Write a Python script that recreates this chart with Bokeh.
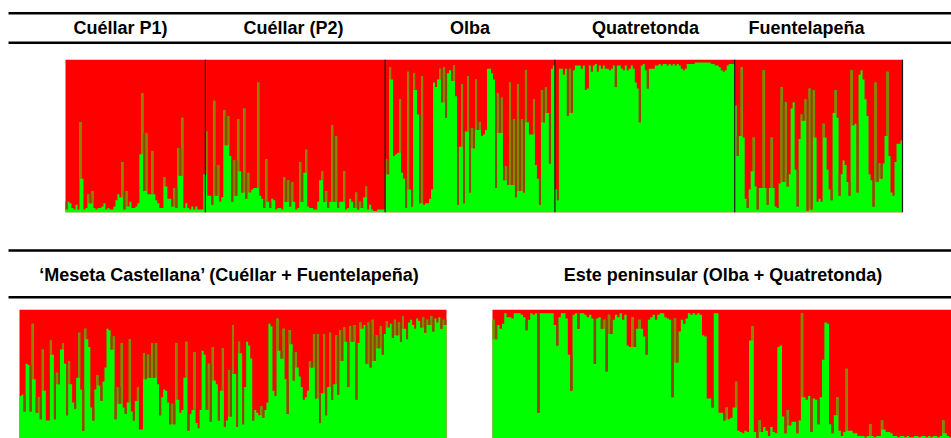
import numpy as np
from bokeh.plotting import figure
from bokeh.models import Range1d, Span
from bokeh.layouts import column, row
from bokeh.core.properties import value
from bokeh.embed import file_html
from bokeh.resources import INLINE

# ---------------- texts ----------------
top_titles = ["Cuéllar P1)", "Cuéllar (P2)", "Olba", "Quatretonda", "Fuentelapeña"]
bottom_titles = ["\u2018Meseta Castellana\u2019 (Cuéllar + Fuentelapeña)",
                 "Este peninsular (Olba + Quatretonda)"]

# ---------------- data: % membership in the green cluster, one value per individual ----------------
cuellar_p1 = [2, 7, 6, 3, 2, 5, 2, 59, 22, 2, 3, 12, 6, 14, 3, 2, 3, 3, 4, 6,
              2, 3, 2, 2, 4, 8, 12, 10, 33, 2, 14, 4, 7, 3, 3, 4, 6, 38, 78, 14,
              52, 12, 12, 40, 12, 8, 6, 3, 3, 23, 17, 9, 9, 4, 16, 3, 42, 24, 62, 3,
              6, 3, 2, 4, 2, 4, 2, 2, 2, 25]
cuellar_p2 = [53, 11, 11, 5, 73, 11, 31, 7, 10, 67, 44, 63, 37, 7, 34, 11, 61, 27, 13, 68,
              9, 26, 13, 15, 16, 16, 85, 11, 9, 3, 35, 7, 3, 9, 8, 2, 3, 3, 2, 23,
              7, 21, 4, 20, 7, 2, 3, 33, 7, 26, 41, 4, 3, 3, 2, 2, 7, 21, 27, 7,
              14, 3, 7, 57, 7, 50, 3, 7, 7, 27, 2, 3, 9, 7, 3, 13, 2, 7, 3, 10,
              17, 2, 5, 2, 1, 1, 2, 2, 2, 2]
olba = [35, 25, 95, 87, 37, 38, 39, 74, 26, 22, 3, 92, 15, 4, 91, 80, 64, 6, 89, 5,
        6, 6, 9, 15, 85, 82, 87, 94, 72, 95, 62, 91, 93, 86, 96, 76, 5, 43, 84, 6,
        53, 89, 13, 55, 42, 87, 54, 59, 50, 51, 54, 94, 94, 91, 87, 16, 78, 52, 75, 21,
        30, 18, 85, 18, 61, 10, 84, 14, 61, 13, 93, 59, 51, 51, 74, 31, 22, 5, 80, 59,
        82, 65, 32, 94, 96]
quatretonda = [15, 8, 94, 94, 90, 94, 63, 94, 65, 93, 96, 96, 96, 94, 96, 80, 81, 96, 92, 96,
               97, 92, 96, 94, 96, 94, 94, 93, 94, 96, 82, 96, 96, 94, 93, 96, 93, 94, 96, 94,
               85, 81, 59, 96, 97, 93, 81, 94, 94, 94, 96, 96, 97, 96, 97, 97, 96, 97, 96, 97,
               96, 97, 96, 94, 93, 94, 97, 97, 97, 97, 98, 98, 98, 98, 98, 98, 98, 98, 97, 97,
               96, 96, 95, 93, 92, 93, 96, 97, 97, 97]
fuentelapena = [70, 37, 50, 95, 49, 9, 3, 15, 27, 49, 17, 2, 16, 16, 93, 16, 5, 16, 49, 16,
                4, 3, 19, 82, 20, 72, 17, 25, 68, 72, 28, 4, 48, 64, 60, 74, 1, 81, 2, 80,
                49, 7, 9, 7, 58, 49, 28, 15, 8, 65, 80, 62, 11, 25, 34, 31, 20, 11, 93, 57,
                58, 13, 90, 93, 87, 74, 63, 25, 21, 4, 85, 20, 32, 22, 32, 50, 92, 37, 13, 11,
                33, 45, 45, 47]

meseta = [33, 34, 21, 58, 57, 21, 89, 46, 20, 32, 15, 69, 37, 14, 14, 76, 65, 15, 51, 42,
          69, 74, 58, 18, 60, 42, 28, 23, 47, 82, 38, 6, 85, 77, 71, 24, 14, 38, 49, 41,
          29, 44, 55, 85, 84, 69, 79, 15, 40, 27, 74, 24, 19, 28, 77, 21, 14, 29, 40, 7,
          7, 66, 46, 65, 47, 74, 47, 74, 42, 18, 32, 38, 37, 28, 11, 27, 11,
          74, 30, 20, 22, 47, 75, 6, 19, 22, 67, 12, 8, 22, 68, 65, 22, 58, 13, 71, 45,
          42, 14, 37, 70, 9, 14, 53, 17,
          88, 50, 9, 75, 66, 11, 40, 75, 72, 62, 14, 22, 20, 18, 25, 16, 22, 28, 89, 87,
          37, 33, 93, 68, 62, 85, 46, 19, 84, 73, 45, 67, 55,
          48, 40, 30, 32, 37, 60, 55, 81, 31, 81, 12, 35, 81, 18, 40, 82, 30, 42, 80, 34,
          84, 60, 86, 75, 40, 87, 75, 88, 30, 74, 90, 85, 88,
          58, 90, 55, 92, 60, 80, 70, 87, 65, 81, 91, 86, 89, 78, 92, 80, 90, 75, 95, 85,
          77, 90, 92, 88, 85, 93, 91, 86, 94, 82, 92, 88, 95, 83, 93, 90, 94, 85, 92, 88]
este = [92, 77, 88, 85, 89, 97, 94, 94, 93, 97, 97, 97, 96, 94, 84, 92, 97, 96, 97, 20,
        97, 97, 97, 97, 97, 97, 88, 72, 94, 97, 97, 93, 65, 37, 96, 97, 85, 97, 97, 96,
        94, 96, 93, 58, 93, 94, 85, 92, 52, 96, 81, 92, 96, 94, 97, 92, 96, 72, 71, 94,
        71, 85, 92, 85, 79, 65, 92, 94, 96, 92, 96, 97, 97, 94, 93, 92, 32, 93, 59, 83,
        92, 89, 93, 97, 96, 97, 96, 97, 96, 80, 79, 31, 31, 24, 97, 97,
        20, 20, 14, 24, 15, 16, 24, 44, 6, 5, 4, 6, 5, 76, 87, 5, 0, 14, 5, 9,
        6, 2, 9, 5, 4, 71, 72, 17, 4, 22, 10, 13, 13, 4, 14, 97, 32, 30, 33, 5,
        31, 30, 11, 32, 61, 90, 89, 11, 4, 18, 32, 6, 2, 5, 54, 6, 6, 4, 4, 2,
        2, 2, 1, 2, 11, 2, 1, 2, 2, 14, 7, 5, 5, 4, 2, 2, 1, 2, 2, 1,
        2, 1, 1, 2, 2, 1, 2, 2, 1, 2, 1, 2, 2, 1, 2, 14, 4, 2, 1]

RED = "#ff0000"
GREEN = "#00ff00"
SPIKE = "#8c8400"
DIP = "#8c4a00"
FONT = value("Liberation Sans")
W = 951


def base_fig(width, height, xr, yr, top=0, bottom=0):
    p = figure(width=width, height=height, x_range=xr, y_range=yr, title=None,
               output_backend="svg", toolbar_location=None,
               x_axis_location=None, y_axis_location=None,
               min_border_left=0, min_border_right=0,
               min_border_top=top, min_border_bottom=bottom)
    p.xgrid.visible = False
    p.ygrid.visible = False
    p.outline_line_color = None
    p.border_fill_color = "white"
    p.background_fill_color = "white"
    return p


def structure_panel(pct, width, height, px0, px1, seps, top=0, bottom=0):
    """Panel whose n individuals occupy pixels px0..px1 of a full-width frame."""
    g = np.array(pct, dtype=float) / 100.0
    n = len(g)
    units_per_px = n / (px1 - px0)
    xr = Range1d(-px0 * units_per_px, n + (width - px1) * units_per_px)
    p = base_fig(width, height, xr, Range1d(0, 1), top=top, bottom=bottom)
    # red cluster fills the whole column, green cluster drawn from the bottom
    p.quad(left=[0], right=[n], bottom=[0], top=[1], fill_color=RED, line_color=None)
    xs = np.arange(n + 1)
    p.varea_step(x=xs, y1=np.zeros(n + 1), y2=np.append(g, g[-1]), step_mode="after",
                 fill_color=GREEN)
    prev = np.concatenate([g[1:2], g[:-1]])
    nxt = np.concatenate([g[1:], g[-2:-1]])
    hi = np.maximum(prev, nxt)
    lo = np.minimum(prev, nxt)
    idx = np.arange(n)
    sp = (g - hi) > 0.04
    dp = (lo - g) > 0.04
    p.quad(left=idx[sp], right=idx[sp] + 1, bottom=hi[sp], top=g[sp],
           fill_color=SPIKE, line_color=None)
    p.quad(left=idx[dp], right=idx[dp] + 1, bottom=g[dp], top=lo[dp],
           fill_color=DIP, line_color=None)
    for b in seps:
        p.segment(x0=[b], y0=[0], x1=[b], y1=[1], line_color="#1a1a1a", line_width=1.2)
    return p


def header(height, y0, lines, xs, ty, texts):
    p = base_fig(W, height, Range1d(0, W), Range1d(y0 + height, y0))
    p.segment(x0=[8] * len(lines), y0=lines, x1=[W] * len(lines), y1=lines,
              line_color="black", line_width=2.5)
    p.text(x=xs, y=[ty] * len(xs), text=texts, text_align="center", text_baseline="middle",
           text_font=FONT, text_font_style="bold", text_font_size="18px", text_color="black")
    return p


# header 1 (window y 0..55)
h1 = header(55, 0, [12.7, 42.3], [120, 293, 469.5, 645, 806], 27.5, top_titles)

# top STRUCTURE panel (window y 55..215, frame 59..212, bars 65..902)
pops = [cuellar_p1, cuellar_p2, olba, quatretonda, fuentelapena]
top_vals = sum(pops, [])
bounds = list(np.cumsum([len(v) for v in pops]))
top = structure_panel(top_vals, W, 160, 65, 902, bounds, top=4, bottom=3)

# header 2 (window y 215..305)
h2 = header(90, 215, [250, 296.7], [229, 722.5], 274.5, bottom_titles)

# bottom panels (window y 305..438, frame 309..438)
bl = structure_panel(meseta, 484, 133, 19, 446, [], top=4)
br = structure_panel(este, W - 484, 133, 492 - 484, W - 484, [], top=4)

layout = column(h1, top, h2, row(bl, br, spacing=0), spacing=0)

with open("out.html", "w") as f:
    f.write(file_html(layout, INLINE))
